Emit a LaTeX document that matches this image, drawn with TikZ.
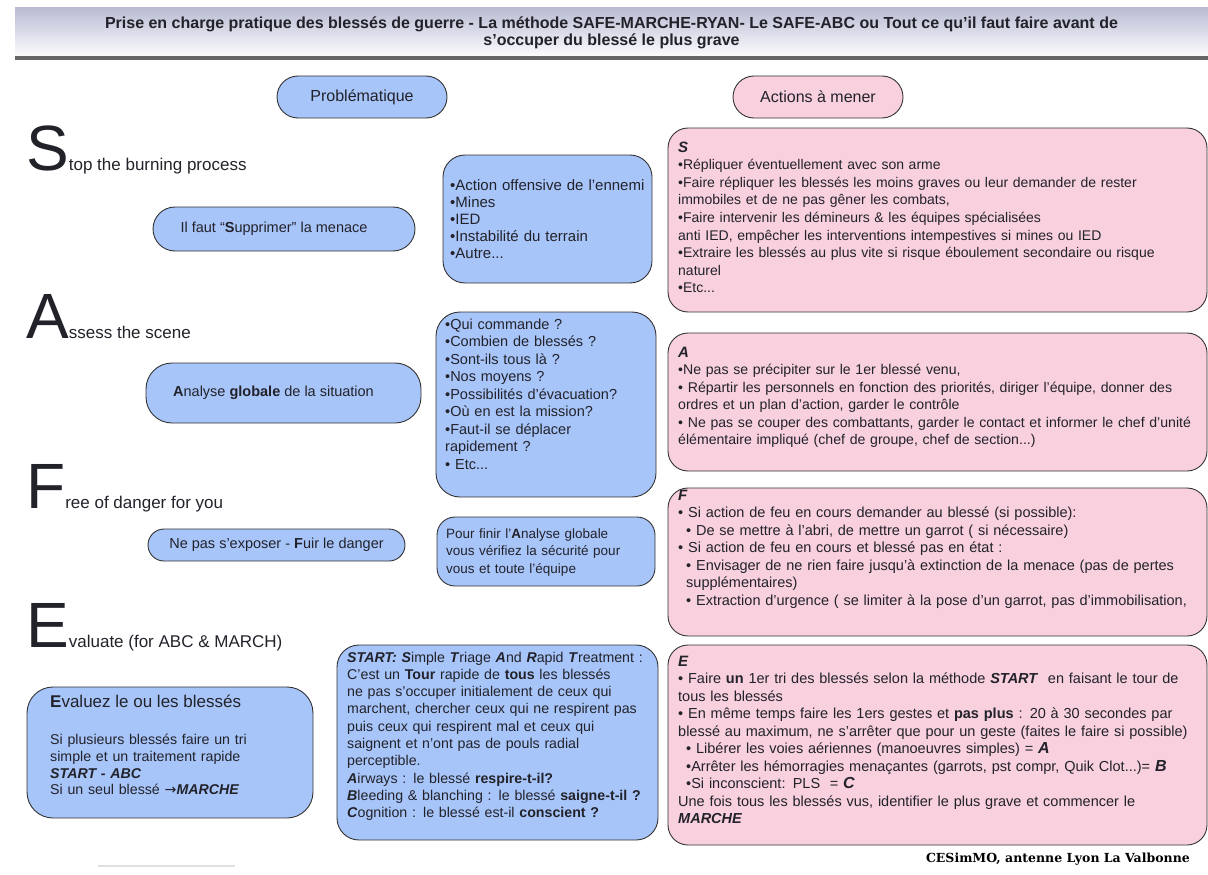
\documentclass[tikz,border=0pt]{standalone}
\usepackage{fontspec}
\setmainfont{Liberation Sans}
\newfontfamily\slabfont{DejaVu Serif}
\newfontfamily\arrowfont{DejaVu Sans}
\definecolor{bluefill}{RGB}{168,197,250}
\definecolor{pinkfill}{RGB}{248,208,222}
\definecolor{bandtop}{RGB}{186,188,212}
\definecolor{inkgray}{RGB}{34,34,42}

\begin{document}
\begin{tikzpicture}[x=1pt, y=-1pt,
    bluebox/.style={rectangle, draw=black!80, line width=0.9pt, fill=bluefill, rounded corners=22pt},
    pinkbox/.style={rectangle, draw=black!80, line width=0.9pt, fill=pinkfill, rounded corners=20pt},
    pilltext/.style={text=inkgray, font=\fontsize{14.5}{17}\selectfont},
    boxtext/.style={anchor=base west, inner sep=0pt, align=left, text=inkgray, font=\fontsize{14.5}{17.5}\selectfont},
    bigletter/.style={anchor=base west, inner sep=0pt, text=inkgray, font=\fontsize{17}{20}\selectfont}]

    \useasboundingbox (0,0) rectangle (1208,875);

    \node[rectangle, top color=bandtop, bottom color=white, minimum width=1193pt, minimum height=50pt, inner sep=0pt, align=center, text=inkgray, font=\bfseries\fontsize{16}{17.5}\selectfont] (title) at (611.5,33) {Prise en charge pratique des blessés de guerre - La méthode SAFE-MARCHE-RYAN- Le SAFE-ABC ou Tout ce qu'il faut faire avant de\\s'occuper du blessé le plus grave};
    \draw[line width=3.5pt, black!60] (title.south west) -- (title.south east);

    \node[bluebox, rounded corners=21pt, minimum width=170pt, minimum height=42pt, pilltext, font=\fontsize{16}{18}\selectfont] (probl) at (362,97) {Problématique};
    \node[pinkbox, rounded corners=21pt, minimum width=170pt, minimum height=42pt, pilltext, font=\fontsize{16}{18}\selectfont] (actions) at (818,97) {Actions à mener};

    \node[bigletter] (sword) at (26,170) {{\fontsize{64}{64}\selectfont S}top the burning process};
    \node[bluebox, minimum width=262pt, minimum height=44pt, pilltext] (supp) at (284,229) {Il faut ``\textbf{S}upprimer'' la menace\hspace*{20pt}};
    \node[bluebox, minimum width=209pt, minimum height=128pt] (menbox) at (547.5,219) {};
    \node[boxtext, text width=200pt, font=\fontsize{15}{17}\selectfont] (mentxt) at (450,190) {•Action offensive de l'ennemi\\•Mines\\•IED\\•Instabilité du terrain\\•Autre...};
    \node[pinkbox, minimum width=539pt, minimum height=184pt] (sbox) at (937.5,220) {};
    \node[boxtext, text width=560pt, font=\fontsize{14}{17.6}\selectfont] (stxt) at (678,152) {{\fontsize{15}{17.6}\selectfont\textbf{\textit{S}}}\\
        •Répliquer éventuellement avec son arme\\
        •Faire répliquer les blessés les moins graves ou leur demander de rester\\
        immobiles et de ne pas gêner les combats,\\
        •Faire intervenir les démineurs \& les équipes spécialisées\\
        anti IED, empêcher les interventions intempestives si mines ou IED\\
        •Extraire les blessés au plus vite si risque éboulement secondaire ou risque\\
        naturel\\
        •Etc...};

    \node[bigletter] (aword) at (26,338) {{\fontsize{64}{64}\selectfont A}ssess the scene};
    \node[bluebox, rounded corners=26pt, minimum width=275pt, minimum height=60pt, pilltext] (analyse) at (283.5,393) {\textbf{A}nalyse \textbf{globale} de la situation\hspace*{20pt}};
    \node[bluebox, rounded corners=24pt, minimum width=220pt, minimum height=185pt] (askbox) at (546,404.5) {};
    \node[boxtext, text width=210pt] (asktxt) at (445,329) {•Qui commande ?\\•Combien de blessés ?\\•Sont-ils tous là ?\\•Nos moyens ?\\•Possibilités d'évacuation?\\•Où en est la mission?\\•Faut-il se déplacer\\rapidement ?\\• Etc...};
    \node[pinkbox, minimum width=539pt, minimum height=138pt] (abox) at (937.5,402) {};
    \node[boxtext, text width=560pt, font=\fontsize{14.1}{17.5}\selectfont] (atxt) at (678,357) {{\fontsize{15}{17.5}\selectfont\textbf{\textit{A}}}\\
        •Ne pas se précipiter sur le 1er blessé venu,\\
        • Répartir les personnels en fonction des priorités, diriger l'équipe, donner des\\
        ordres et un plan d'action, garder le contrôle\\
        • Ne pas se couper des combattants, garder le contact et informer le chef d'unité\\
        élémentaire impliqué (chef de groupe, chef de section...)};

    \node[bigletter] (fword) at (26,508) {{\fontsize{64}{64}\selectfont F}ree of danger for you};
    \node[bluebox, rounded corners=16pt, minimum width=257pt, minimum height=32pt, pilltext] (fuir) at (276.5,545) {Ne pas s'exposer - \textbf{F}uir le danger};
    \node[bluebox, rounded corners=18pt, minimum width=218pt, minimum height=69pt] (safebox) at (546,551.5) {};
    \node[boxtext, text width=210pt, font=\fontsize{13.5}{17.5}\selectfont] (safetxt) at (446,538) {Pour finir l'\textbf{A}nalyse globale\\vous vérifiez la sécurité pour\\vous et toute l'équipe};
    \node[pinkbox, minimum width=539pt, minimum height=148pt] (fbox) at (937.5,562) {};
    \node[boxtext, text width=560pt] (ftxt) at (678,500) {{\fontsize{15}{17.5}\selectfont\textbf{\textit{F}}}\\
        • Si action de feu en cours demander au blessé (si possible):\\
        \hspace*{8pt}• De se mettre à l'abri, de mettre un garrot ( si nécessaire)\\
        • Si action de feu en cours et blessé pas en état :\\
        \hspace*{8pt}• Envisager de ne rien faire jusqu'à extinction de la menace (pas de pertes\\
        \hspace*{8pt}supplémentaires)\\
        \hspace*{8pt}• Extraction d'urgence ( se limiter à la pose d'un garrot, pas d'immobilisation,};

    \node[bigletter] (eword) at (26,647) {{\fontsize{64}{64}\selectfont E}valuate (for ABC \& MARCH)};
    \node[bluebox, rounded corners=26pt, minimum width=286pt, minimum height=131pt] (evalbox) at (170,752.5) {};
    \node[boxtext, text width=270pt, font=\fontsize{14.2}{16.7}\selectfont] (evaltxt) at (50,707) {{\fontsize{17}{17}\selectfont\textbf{E}valuez le ou les blessés}\\[21pt]
        Si plusieurs blessés faire un tri\\
        simple et un traitement rapide\\
        \textbf{\textit{START - ABC}}\\
        Si un seul blessé {\arrowfont →}\textbf{\textit{MARCHE}}};
    \node[bluebox, minimum width=321pt, minimum height=195pt] (startbox) at (497.5,742.5) {};
    \node[boxtext, text width=320pt, font=\fontsize{14.2}{17.3}\selectfont] (starttxt) at (347,662) {\textbf{\textit{START: S}}imple \textbf{\textit{T}}riage \textbf{\textit{A}}nd \textbf{\textit{R}}apid \textbf{\textit{T}}reatment :\\
        C'est un \textbf{Tour} rapide de \textbf{tous} les blessés\\
        ne pas s'occuper initialement de ceux qui\\
        marchent, chercher ceux qui ne respirent pas\\
        puis ceux qui respirent mal et ceux qui\\
        saignent et n'ont pas de pouls radial\\
        perceptible.\\
        \textbf{\textit{A}}irways : le blessé \textbf{respire-t-il?}\\
        \textbf{\textit{B}}leeding \& blanching : le blessé \textbf{saigne-t-il ?}\\
        \textbf{\textit{C}}ognition : le blessé est-il \textbf{conscient ?}};
    \node[pinkbox, minimum width=539pt, minimum height=200pt] (ebox) at (937.5,745) {};
    \node[boxtext, text width=560pt] (etxt) at (678,666) {{\fontsize{15}{17.5}\selectfont\textbf{\textit{E}}}\\
        • Faire \textbf{un} 1er tri des blessés selon la méthode \textbf{\textit{START}}\ \ en faisant le tour de\\
        tous les blessés\\
        • En même temps faire les 1ers gestes et \textbf{pas plus} : 20 à 30 secondes par\\
        blessé au maximum, ne s'arrêter que pour un geste (faites le faire si possible)\\
        \hspace*{8pt}• Libérer les voies aériennes (manoeuvres simples) = {\fontsize{16}{17.5}\selectfont\textbf{\textit{A}}}\\
        \hspace*{8pt}•Arrêter les hémorragies menaçantes (garrots, pst compr, Quik Clot...)= {\fontsize{16}{17.5}\selectfont\textbf{\textit{B}}}\\
        \hspace*{8pt}•Si inconscient: PLS\ \ = {\fontsize{16}{17.5}\selectfont\textbf{\textit{C}}}\\
        Une fois tous les blessés vus, identifier le plus grave et commencer le\\
        \textbf{\textit{MARCHE}}};

    \draw[line width=2pt, black!12] (98,866) -- (235,866);
    \node[anchor=base east, inner sep=0pt, font=\slabfont\bfseries\fontsize{12.5}{14}\selectfont] (credit) at (1190,862) {CESimMO, antenne Lyon La Valbonne};
\end{tikzpicture}
\end{document}
